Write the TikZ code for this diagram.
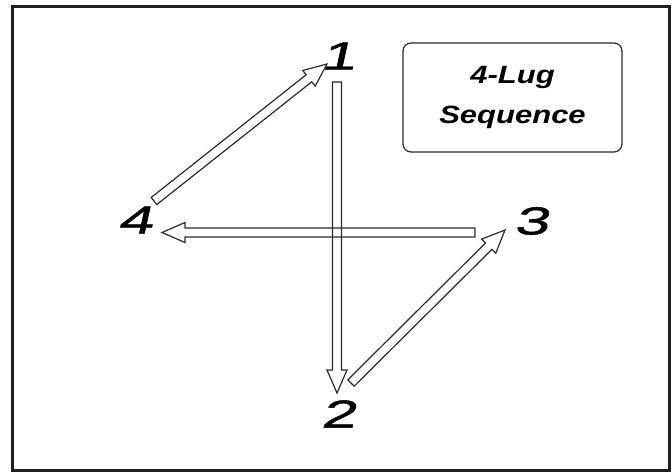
\documentclass[tikz,border=0pt]{standalone}
\usepackage{fontspec}
\setmainfont{Liberation Sans}
\newfontfamily\lugfont{Liberation Sans}[FakeStretch=1.6,FakeSlant=0.22,FakeBold=1.2]
\newfontfamily\titlefont{Liberation Sans}[FakeStretch=1.24]
\usetikzlibrary{calc}
\definecolor{ink}{HTML}{2B2B2B}
\definecolor{frame}{HTML}{1E1E1E}

\begin{document}
\begin{tikzpicture}[
  x=1pt, y=-1pt,
  lug/.style={inner sep=0pt, font=\lugfont\fontsize{39}{39}\selectfont},
  title/.style={
    rectangle,
    rounded corners=8pt,
    draw=ink,
    line width=1.2pt,
    align=center,
    minimum width=219pt,
    minimum height=109pt,
    font=\titlefont\bfseries\itshape\fontsize{25}{40}\selectfont
  },
  hollow/.style={
    draw=ink, line width=1.2pt, line join=miter,
    to path={
      ($(\tikztostart)!4.5pt!90:(\tikztotarget)$)
      -- ($($(\tikztotarget)!23pt!(\tikztostart)$)!4.5pt!90:(\tikztotarget)$)
      -- ($($(\tikztotarget)!23pt!(\tikztostart)$)!10pt!90:(\tikztotarget)$)
      -- (\tikztotarget)
      -- ($($(\tikztotarget)!23pt!(\tikztostart)$)!10pt!-90:(\tikztotarget)$)
      -- ($($(\tikztotarget)!23pt!(\tikztostart)$)!4.5pt!-90:(\tikztotarget)$)
      -- ($(\tikztostart)!4.5pt!-90:(\tikztotarget)$)
      -- cycle
    }
  }
]
\useasboundingbox (0,0) rectangle (672,472);
\draw[frame, line width=3pt] (12.5,6.5) rectangle (669.5,470.5);

% lug numbers
\node[lug] (l1) at (338,56) {1};
\node[lug] (l2) at (338,414) {2};
\node[lug] (l3) at (531,221) {3};
\node[lug] (l4) at (135,220) {4};

\node[title] (seq) at (512.5,97.5) {4-Lug\\Sequence};

% arrow ends
\coordinate (a1) at (337,82);
\coordinate (b2) at (337,393);
\coordinate (a2) at (351,383);
\coordinate (b3) at (505,230);
\coordinate (a3) at (475,232.5);
\coordinate (b4) at (162,232.5);
\coordinate (a4) at (154,201);
\coordinate (b1) at (327,64);

\draw[hollow] (a1) to (b2);
\draw[hollow] (a2) to (b3);
\draw[hollow] (a3) to (b4);
\draw[hollow] (a4) to (b1);
\end{tikzpicture}
\end{document}
